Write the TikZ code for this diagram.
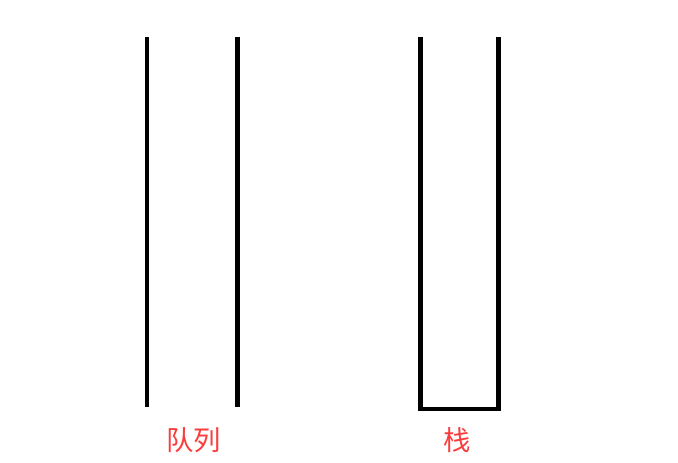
\documentclass[tikz,border=0pt]{standalone}
\usepackage{fontspec}
\newfontfamily\cjk{Noto Sans CJK SC}
\definecolor{labelred}{RGB}{250,60,60}
\tikzset{every picture/.style={line width=0.75pt}}
\tikzset{wall/.style={line width=3.3pt,color=black}, tag/.style={text=labelred,font=\cjk\fontsize{20.5}{22}\selectfont}}
\begin{document}
\begin{tikzpicture}[x=0.75pt,y=0.75pt,yscale=-1,xscale=1]
	\useasboundingbox (0,0) rectangle (678,463);

	%Straight Lines [id:queue_left] 
	\draw [wall]   (147,37) -- (147,407) ;
	%Straight Lines [id:queue_right] 
	\draw [wall]   (237.5,37) -- (237.5,407) ;
	%Shape: Open Box [id:stack] 
	\draw [wall]   (420.5,37) -- (420.5,409) -- (498.5,409) -- (498.5,37) ;

	% Text Node
	\node [tag] (queue) at (193.5,440) {队列};
	% Text Node
	\node [tag] (stack) at (457,440) {栈};

\end{tikzpicture}
\end{document}
